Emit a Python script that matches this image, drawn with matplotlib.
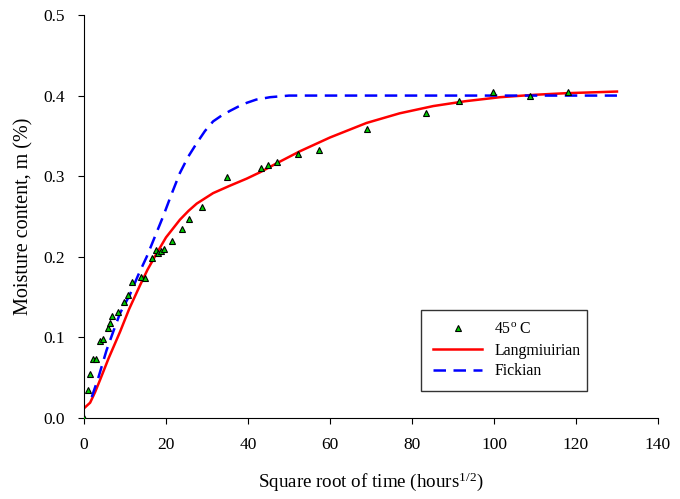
import matplotlib
matplotlib.use("Agg")
import matplotlib.pyplot as plt

plt.rcParams['font.family'] = ['Liberation Serif', 'DejaVu Serif']
plt.rcParams['mathtext.fontset'] = 'custom'
plt.rcParams['mathtext.rm'] = 'Liberation Serif'
plt.rcParams['mathtext.it'] = 'Liberation Serif:italic'

# measured data, 45 C
sqrt_t = [0, 1.05, 1.5, 2.3, 3.0, 4.0, 4.7, 5.75, 6.4, 6.9, 8.4, 9.7, 10.8, 11.8,
          13.8, 14.8, 16.5, 17.5, 18.0, 18.8, 19.6, 21.4, 23.8, 25.6, 28.7, 34.8,
          43.2, 44.8, 47.2, 52.3, 57.4, 69.1, 83.3, 91.4, 99.8, 108.9, 118.1]
moisture = [0.0, 0.035, 0.055, 0.073, 0.073, 0.095, 0.098, 0.112, 0.118, 0.126,
            0.131, 0.144, 0.153, 0.169, 0.175, 0.174, 0.199, 0.208, 0.205, 0.207,
            0.210, 0.219, 0.235, 0.247, 0.262, 0.299, 0.310, 0.314, 0.317, 0.327,
            0.333, 0.359, 0.378, 0.393, 0.404, 0.400, 0.404]

# Langmuir fit curve
lang_x = [0, 1.5, 2.7, 3.9, 6.0, 8.8, 11.0, 13.7, 15.5, 17.7, 20.0, 23.4, 25.5,
          27.5, 31.5, 35.5, 39.7, 43.0, 47.0, 52.7, 60.0, 68.9, 77.0, 85.2, 93.0,
          101.5, 110.0, 117.8, 124.0, 130.0]
lang_y = [0.012, 0.019, 0.032, 0.047, 0.074, 0.107, 0.135, 0.165, 0.184, 0.204,
          0.224, 0.246, 0.257, 0.266, 0.279, 0.288, 0.297, 0.305, 0.316, 0.331,
          0.348, 0.366, 0.378, 0.387, 0.393, 0.398, 0.401, 0.403, 0.404, 0.405]

# Fickian fit curve
fick_x = [1.9, 3.5, 5.5, 7.2, 8.8, 11.2, 13.2, 15.3, 17.3, 19.3, 21.3, 23.4, 25.4,
          27.5, 29.5, 31.5, 33.5, 35.6, 37.5, 39.7, 42.0, 45.4, 50.0, 60.0, 80.0,
          100.0, 130.0]
fick_y = [0.026, 0.050, 0.084, 0.108, 0.130, 0.153, 0.177, 0.200, 0.225, 0.250,
          0.277, 0.304, 0.324, 0.341, 0.356, 0.368, 0.375, 0.381, 0.386, 0.391,
          0.395, 0.398, 0.400, 0.400, 0.400, 0.400, 0.400]

fig = plt.figure(figsize=(6.8, 4.99), dpi=100)
ax = fig.add_axes([0.1235, 0.1623, 0.8441, 0.8077])

ax.plot(sqrt_t, moisture, linestyle='none', marker='^', markersize=5,
        markerfacecolor='#00cc00', markeredgecolor='black', markeredgewidth=0.8,
        label='45$^{\\mathrm{o}}$ C', zorder=3)
ax.plot(lang_x, lang_y, color='#ff0000', linewidth=1.8, label='Langmiuirian')
ax.plot(fick_x, fick_y, color='#0000ff', linewidth=1.8, linestyle=(0, (5, 3)),
        label='Fickian')

ax.set_xlim(0, 140)
ax.set_ylim(0, 0.5)
ax.set_xticks(range(0, 141, 20))
ax.set_yticks([0.0, 0.1, 0.2, 0.3, 0.4, 0.5])
ax.set_yticklabels(['0.0', '0.1', '0.2', '0.3', '0.4', '0.5'])
ax.tick_params(direction='out', length=4.5, labelsize=12.5)
ax.tick_params(axis='x', pad=9)
ax.tick_params(axis='y', pad=9)
for s in ['top', 'right']:
    ax.spines[s].set_visible(False)

ax.set_xlabel('Square root of time (hours$^{1/2}$)', fontsize=13.7, labelpad=13)
ax.set_ylabel('Moisture content, m (%)', fontsize=14.5, labelpad=7)

leg = ax.legend(loc='upper left', bbox_to_anchor=(0.588, 0.066, 0.288, 0.202),
                mode='expand', fontsize=11.4, frameon=True, fancybox=False,
                edgecolor='black', borderpad=0.75, labelspacing=0.3,
                handlelength=3.1, handletextpad=0.75, borderaxespad=0)
leg.get_frame().set_linewidth(1.0)

fig.savefig('out.png', dpi=100)
